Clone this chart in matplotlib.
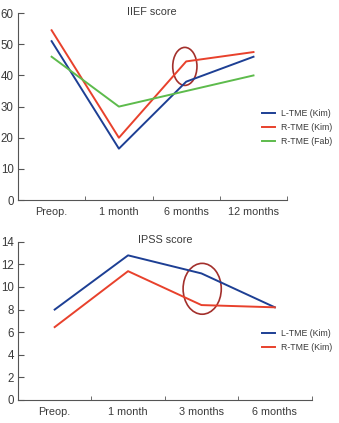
import matplotlib
matplotlib.use('Agg')
import matplotlib.pyplot as plt
from matplotlib.patches import Ellipse

plt.rcParams['font.family'] = ['Liberation Sans', 'DejaVu Sans']

iief_labels = ['Preop.', '1 month', '6 months', '12 months']
iief_l_kim = [51, 16.5, 38, 46]
iief_r_kim = [54.5, 20, 44.5, 47.5]
iief_r_fab = [46, 30, 35, 40]

ipss_labels = ['Preop.', '1 month', '3 months', '6 months']
ipss_l_kim = [8.0, 12.8, 11.2, 8.2]
ipss_r_kim = [6.45, 11.4, 8.4, 8.2]

blue = '#1d3f94'
red = '#e8412c'
green = '#5dbb4c'
ring = '#a3302c'
txt = '#3a3a3a'
axc = '#555555'

fig = plt.figure(figsize=(3.39, 4.23), dpi=100)


def style(ax, labels, ymax, ystep):
    n = len(labels)
    ax.set_xlim(-0.5, n - 0.5)
    ax.set_ylim(0, ymax)
    ax.set_yticks(range(0, ymax + 1, ystep))
    ax.set_xticks(range(n))
    ax.set_xticklabels(labels)
    ax.set_xticks([i + 0.5 for i in range(n)], minor=True)
    ax.tick_params(axis='x', which='major', length=0, pad=5, labelsize=7.8, colors=txt)
    ax.tick_params(axis='x', which='minor', direction='in', length=3, color=axc)
    ax.tick_params(axis='y', direction='in', length=4, pad=3, labelsize=8.3, colors=txt, color=axc)
    for s in ['top', 'right']:
        ax.spines[s].set_visible(False)
    for s in ['left', 'bottom']:
        ax.spines[s].set_color(axc)
        ax.spines[s].set_linewidth(0.8)


def legend(ax, top_px):
    ax.legend(loc='upper left', bbox_to_anchor=(262 / 339, 1 - top_px / 423),
              bbox_transform=fig.transFigure, frameon=False, borderpad=0,
              borderaxespad=0, fontsize=6.3, handlelength=1.5, handletextpad=0.7,
              labelspacing=0.55, labelcolor=txt)


# IIEF
ax1 = fig.add_axes([0.053, 0.527, 0.794, 0.442])
x = range(len(iief_labels))
ax1.plot(x, iief_l_kim, color=blue, lw=1.4, label='L-TME (Kim)')
ax1.plot(x, iief_r_kim, color=red, lw=1.4, label='R-TME (Kim)')
ax1.plot(x, iief_r_fab, color=green, lw=1.4, label='R-TME (Fab)')
ax1.add_patch(Ellipse((1.98, 42.9), 0.36, 12.2, fill=False, ec=ring, lw=1.2))
style(ax1, iief_labels, 60, 10)
legend(ax1, 109)
fig.text(0.448, 0.972, 'IIEF score', ha='center', va='center', fontsize=7.8, color=txt)

# IPSS
ax2 = fig.add_axes([0.053, 0.0544, 0.866, 0.374])
x = range(len(ipss_labels))
ax2.plot(x, ipss_l_kim, color=blue, lw=1.4, label='L-TME (Kim)')
ax2.plot(x, ipss_r_kim, color=red, lw=1.4, label='R-TME (Kim)')
ax2.add_patch(Ellipse((2.01, 9.84), 0.52, 4.5, fill=False, ec=ring, lw=1.2))
style(ax2, ipss_labels, 14, 2)
legend(ax2, 329)
fig.text(0.487, 0.432, 'IPSS score', ha='center', va='center', fontsize=7.8, color=txt)

fig.savefig('out.png', dpi=100)
